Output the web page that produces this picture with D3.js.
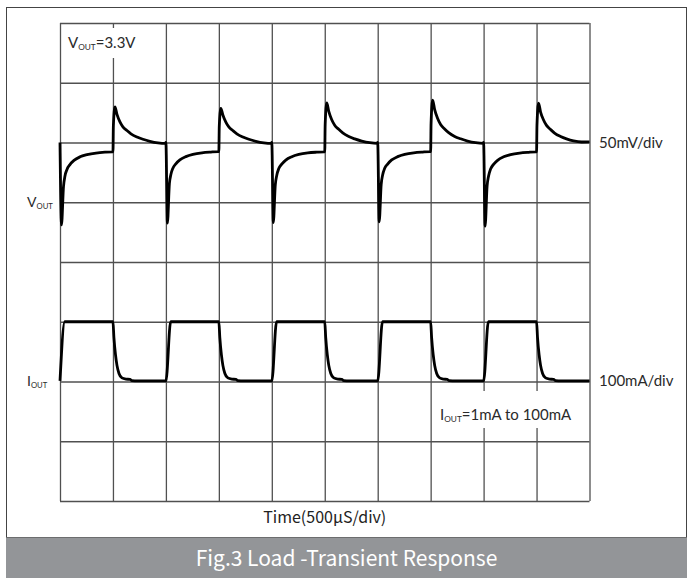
<!DOCTYPE html>
<html>
<head>
<meta charset="utf-8">
<script src="https://cdn.jsdelivr.net/npm/d3@7"></script>
<style>
  body { margin: 0; background: #fff; }
  .lbl { font-family: Lato, "Noto Sans", sans-serif; fill: #2a2a2a; }
  .cjk { font-family: "Noto Sans CJK SC", "Noto Sans", sans-serif; }
</style>
</head>
<body>
<div id="chart"></div>
<script>
// time axis: 10 div x 500 us
var timeTicks = [0, 500, 1000, 1500, 2000, 2500, 3000, 3500, 4000, 4500, 5000];
// V_OUT deviation (mV), 50mV/div
var vTicks = [-300, -250, -200, -150, -100, -50, 0, 50, 100];

// V_OUT trace, time (us) and deviation from 3.3V (mV)
var vTime = [
  0, 14, 33, 47, 66, 94, 132, 189, 255, 340, 425, 496,
  500, 504, 519, 538, 566, 594, 632, 670, 727, 783, 849, 925, 996,
  1000, 1014, 1033, 1047, 1066, 1094, 1132, 1189, 1255, 1340, 1425, 1496,
  1500, 1504, 1519, 1538, 1566, 1594, 1632, 1670, 1727, 1783, 1849, 1925, 1996,
  2000, 2014, 2033, 2047, 2066, 2094, 2132, 2189, 2255, 2340, 2425, 2496,
  2500, 2504, 2519, 2538, 2566, 2594, 2632, 2670, 2727, 2783, 2849, 2925, 2996,
  3000, 3014, 3033, 3047, 3066, 3094, 3132, 3189, 3255, 3340, 3425, 3496,
  3500, 3504, 3519, 3538, 3566, 3594, 3632, 3670, 3727, 3783, 3849, 3925, 3996,
  4000, 4014, 4033, 4047, 4066, 4094, 4132, 4189, 4255, 4340, 4425, 4496,
  4500, 4504, 4519, 4538, 4566, 4594, 4632, 4670, 4727, 4783, 4849, 4925, 5000
];
var vMv = [
  0, -69, -37, -28, -22.5, -18.5, -15, -12, -10.2, -8.8, -8.1, -7.8,
  -7.8, 14, 29.8, 23.5, 17.2, 13.1, 10, 7.3, 4.6, 2.7, 1, -0.3, -0.8,
  0, -67.5, -34.5, -26.8, -21.5, -17.8, -14.6, -11.8, -9.9, -8.6, -8, -7.7,
  -7.7, 13.5, 28.5, 23, 17, 13, 10, 7.3, 4.6, 2.7, 1, -0.3, -0.8,
  0, -67, -35.5, -27.4, -21.8, -18.1, -14.7, -11.9, -10, -8.7, -8.1, -7.8,
  -7.8, 15, 33.2, 26, 19, 14.5, 11, 8, 5, 3, 1.2, -0.2, -0.8,
  0, -66.5, -35, -27, -21.6, -18, -14.6, -11.8, -9.9, -8.6, -8, -7.7,
  -7.7, 16, 35.4, 27.5, 20, 15, 11.3, 8.2, 5.1, 3.1, 1.2, -0.2, -0.8,
  0, -70, -36.5, -28, -22.2, -18.3, -14.9, -12, -10.1, -8.8, -8.2, -7.9,
  -7.9, 14.5, 32.9, 25.5, 18.8, 14.3, 10.9, 7.9, 5, 3, 1.3, 0.4, 0.5
];

// I_OUT trace, time (us) and load current (mA), 100mA/div
var iTime = [
  0, 45, 500, 509, 524, 538, 557, 585, 623, 661, 679, 736,
  1000, 1045, 1500, 1509, 1524, 1538, 1557, 1585, 1623, 1661, 1679, 1736,
  2000, 2045, 2500, 2509, 2524, 2538, 2557, 2585, 2623, 2661, 2679, 2736,
  3000, 3045, 3500, 3509, 3524, 3538, 3557, 3585, 3623, 3655, 3675, 3736,
  4000, 4045, 4500, 4509, 4524, 4538, 4557, 4585, 4623, 4661, 4679, 4736,
  5000
];
var iMa = [
  1, 100, 100, 74, 45, 27, 13.4, 6, 4, 3.5, 1.5, 1,
  1, 100, 100, 74, 45, 27, 13.4, 6, 4, 3.5, 1.5, 1,
  1, 100, 100, 74, 45, 27, 13.4, 6, 4, 3.5, 1.5, 1,
  1, 100, 100, 74, 45, 27, 13.4, 6, 4, 3.5, 1.5, 1,
  1, 100, 100, 74, 45, 27, 13.4, 6, 4, 3.5, 1.5, 1,
  1
];

var width = 693, height = 578;
var gLeft = 60, gRight = 589.5, gTop = 23, gBottom = 501;

var svg = d3.select("#chart").append("svg")
  .attr("width", width)
  .attr("height", height);

// outer frame and caption bar
svg.append("rect")
  .attr("x", 6.5).attr("y", 7.5)
  .attr("width", 680).attr("height", 530)
  .attr("fill", "#fff").attr("stroke", "#444").attr("stroke-width", 1);
svg.append("rect")
  .attr("x", 6).attr("y", 537.5)
  .attr("width", 681).attr("height", 41)
  .attr("fill", "#939598");
svg.append("text")
  .attr("class", "cjk")
  .attr("x", 346.5).attr("y", 566)
  .attr("text-anchor", "middle")
  .attr("font-size", 21)
  .attr("fill", "#fff")
  .text("Fig.3 Load -Transient Response");

var x = d3.scaleLinear().domain([0, 5000]).range([gLeft, gRight]);
var yV = d3.scaleLinear().domain([-300, 100]).range([gBottom, gTop]);
var yI = d3.scaleLinear().domain([-200, 600]).range([gBottom, gTop]);

// grid
svg.append("g")
  .attr("class", "grid")
  .attr("transform", "translate(0," + gBottom + ")")
  .call(d3.axisBottom(x).tickValues(timeTicks).tickSize(-(gBottom - gTop)).tickFormat(""));
svg.append("g")
  .attr("class", "grid")
  .attr("transform", "translate(" + gLeft + ",0)")
  .call(d3.axisLeft(yV).tickValues(vTicks).tickSize(-(gRight - gLeft)).tickFormat(""));
svg.selectAll(".grid .domain").remove();
svg.selectAll(".grid .tick line").attr("stroke", "#505050").attr("stroke-width", 1.3);

// white boxes behind in-grid notes
svg.append("rect").attr("x", 62).attr("y", 28).attr("width", 80).attr("height", 30).attr("fill", "#fff");
svg.append("rect").attr("x", 432).attr("y", 391).attr("width", 156).attr("height", 37).attr("fill", "#fff");

var vLine = d3.line()
  .x(function (d, i) { return x(vTime[i]); })
  .y(function (d) { return yV(d); })
  .curve(d3.curveMonotoneX);
var iLine = d3.line()
  .x(function (d, i) { return x(iTime[i]); })
  .y(function (d) { return yI(d); })
  .curve(d3.curveMonotoneX);

svg.append("path")
  .attr("d", vLine(vMv))
  .attr("fill", "none").attr("stroke", "#000")
  .attr("stroke-width", 2.8).attr("stroke-linejoin", "round");
svg.append("path")
  .attr("d", iLine(iMa))
  .attr("fill", "none").attr("stroke", "#000")
  .attr("stroke-width", 2.8).attr("stroke-linejoin", "round");

// labels with subscript
function subLabel(px, py, size, main, sub, rest) {
  var t = svg.append("text").attr("class", "lbl")
    .attr("x", px).attr("y", py).attr("font-size", size);
  t.append("tspan").text(main);
  t.append("tspan").attr("font-size", size * 0.55).attr("dy", 2).text(sub);
  if (rest) t.append("tspan").attr("dy", -2).text(rest);
}
subLabel(68, 48, 15, "V", "OUT", "=3.3V");
subLabel(27, 207, 14, "V", "OUT", null);
subLabel(27, 386, 14, "I", "OUT", null);
subLabel(440, 420, 15, "I", "OUT", "=1mA to 100mA");

svg.append("text").attr("class", "lbl")
  .attr("x", 599).attr("y", 148).attr("font-size", 15)
  .text("50mV/div");
svg.append("text").attr("class", "lbl")
  .attr("x", 599).attr("y", 386).attr("font-size", 15)
  .text("100mA/div");

svg.append("text").attr("class", "cjk")
  .attr("x", (gLeft + gRight) / 2).attr("y", 523)
  .attr("text-anchor", "middle")
  .attr("font-size", 16).attr("fill", "#222")
  .text("Time(500µS/div)");
</script>
</body>
</html>
